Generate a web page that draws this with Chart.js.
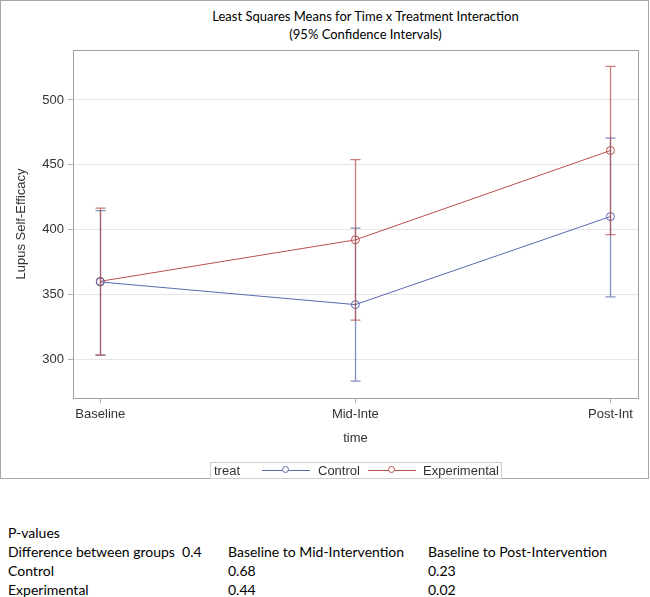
<!DOCTYPE html>
<html>
<head>
<meta charset="utf-8">
<script src="https://cdn.jsdelivr.net/npm/chart.js@4.4.0/dist/chart.umd.min.js"></script>
<style>
  body { margin: 0; background: #fff; }
  #wrap { position: relative; width: 650px; height: 597px; overflow: hidden; }
  #frame { position: absolute; left: 0; top: 0; width: 647px; height: 477px; border: 1px solid #a6a6a6; }
  #chart { position: absolute; left: 0; top: 0; }
  .title { position: absolute; left: 83px; width: 565px; text-align: center; font: 13px Lato, sans-serif; color: #000; }
  #legend { position: absolute; left: 210px; top: 462px; width: 290px; height: 15px; border: 1px solid #cfcfcf;
            font: 13px "Liberation Sans", Arial, sans-serif; color: #333; line-height: 15px; white-space: nowrap; }
  #legend span { position: absolute; top: 0; }
  .mk { position: absolute; top: 7px; height: 1px; width: 48px; }
  .mk i { position: absolute; left: 20px; top: -4px; width: 7px; height: 7px; border-radius: 50%; border: 1px solid; box-sizing: border-box; background: #fff; }
  #table { position: absolute; left: 8px; top: 524px; font: 14px Lato, sans-serif; color: #000; }
  #table div { position: relative; height: 19px; white-space: nowrap; }
  #table span { position: absolute; top: 0; }
</style>
</head>
<body>
<div id="wrap">
  <div id="frame"></div>
  <div class="title" style="top:8px">Least Squares Means for Time x Treatment Interaction</div>
  <div class="title" style="top:26px">(95% Confidence Intervals)</div>
  <canvas id="chart" width="650" height="480"></canvas>
  <div id="legend">
    <span style="left:3px">treat</span>
    <div class="mk" style="left:51px;background:#5a6aad"><i style="border-color:#5a6aad"></i></div>
    <span style="left:107px">Control</span>
    <div class="mk" style="left:157px;background:#b8504a"><i style="border-color:#b8504a"></i></div>
    <span style="left:212px">Experimental</span>
  </div>
  <div id="table">
    <div><span style="left:0">P-values</span></div>
    <div><span style="left:0">Difference between groups&nbsp; 0.4</span><span style="left:220px">Baseline to Mid-Intervention</span><span style="left:420px">Baseline to Post-Intervention</span></div>
    <div><span style="left:0">Control</span><span style="left:220px">0.68</span><span style="left:420px">0.23</span></div>
    <div><span style="left:0">Experimental</span><span style="left:220px">0.44</span><span style="left:420px">0.02</span></div>
  </div>
</div>
<script>
const timePoints = ['Baseline', 'Mid-Inte', 'Post-Int'];
const yTicks = [300, 350, 400, 450, 500];

const controlMeans = [359.5, 342, 410];
const controlLow = [303, 283, 348];
const controlHigh = [414.5, 401, 470.5];

const experimentalMeans = [360, 392, 461];
const experimentalLow = [303, 330, 396];
const experimentalHigh = [416.5, 454, 526];

const blue = '#5a6aad';
const red = '#b8504a';

// error bars with caps, drawn from the scales
const errorBars = {
    id: 'errorBars',
    afterDatasetsDraw(chart) {
        const { ctx, scales: { x, y } } = chart;
        chart.data.datasets.forEach(ds => {
            ctx.save();
            ctx.strokeStyle = ds.errColor;
            ctx.lineWidth = 1.3;
            ds.low.forEach((lo, i) => {
                const px = Math.round(x.getPixelForValue(i)) + 0.5;
                const yl = y.getPixelForValue(lo);
                const yh = y.getPixelForValue(ds.high[i]);
                ctx.beginPath();
                ctx.moveTo(px, yl); ctx.lineTo(px, yh);
                ctx.moveTo(px - 5, yl); ctx.lineTo(px + 5, yl);
                ctx.moveTo(px - 5, yh); ctx.lineTo(px + 5, yh);
                ctx.stroke();
            });
            ctx.restore();
        });
    }
};

const plotFrame = {
    id: 'plotFrame',
    afterDraw(chart) {
        const { ctx, chartArea: a } = chart;
        ctx.save();
        ctx.strokeStyle = '#a0a0a0';
        ctx.lineWidth = 1;
        ctx.strokeRect(Math.round(a.left) + 0.5, Math.round(a.top) + 0.5, Math.round(a.right - a.left), Math.round(a.bottom - a.top));
        ctx.restore();
    }
};

new Chart(document.getElementById('chart'), {
    type: 'line',
    data: {
        datasets: [
            {
                label: 'Control',
                data: controlMeans.map((v, i) => ({ x: i, y: v })),
                low: controlLow, high: controlHigh,
                borderColor: blue, errColor: 'rgba(90,106,173,0.75)',
                borderWidth: 1, pointRadius: 4, pointBorderWidth: 1,
                pointBackgroundColor: 'rgba(255,255,255,0)', pointBorderColor: blue, tension: 0
            },
            {
                label: 'Experimental',
                data: experimentalMeans.map((v, i) => ({ x: i, y: v })),
                low: experimentalLow, high: experimentalHigh,
                borderColor: red, errColor: 'rgba(184,80,74,0.75)',
                borderWidth: 1, pointRadius: 4, pointBorderWidth: 1,
                pointBackgroundColor: 'rgba(255,255,255,0)', pointBorderColor: red, tension: 0
            }
        ]
    },
    options: {
        responsive: false,
        animation: false,
        layout: { padding: { top: 50, right: 12, left: 0, bottom: 34 } },
        plugins: { legend: { display: false }, title: { display: false }, tooltip: { enabled: false } },
        scales: {
            x: {
                type: 'linear', min: -0.107, max: 2.108,
                afterBuildTicks: s => { s.ticks = timePoints.map((_, i) => ({ value: i })); },
                afterFit: s => { s.height = 48; },
                ticks: { callback: v => timePoints[v], color: '#333', font: { family: 'Liberation Sans', size: 13 }, padding: 4, maxRotation: 0 },
                grid: { drawOnChartArea: false, drawTicks: true, tickLength: 5, tickColor: '#b0b0b0' },
                border: { color: '#a0a0a0' },
                title: { display: true, text: 'time', color: '#333', font: { family: 'Liberation Sans', size: 13 }, padding: { top: 6, bottom: 0 } }
            },
            y: {
                min: 269.9, max: 538.6,
                afterBuildTicks: s => { s.ticks = yTicks.map(v => ({ value: v })); },
                afterFit: s => { s.width = 73; },
                ticks: { color: '#333', font: { family: 'Liberation Sans', size: 13 }, padding: 4 },
                grid: { color: '#e6e6e6', tickColor: '#b0b0b0', tickLength: 5 },
                border: { color: '#a0a0a0' },
                title: { display: true, text: 'Lupus Self-Efficacy', color: '#333', font: { family: 'Liberation Sans', size: 13 }, padding: { top: 14, bottom: 0 } }
            }
        }
    },
    plugins: [errorBars, plotFrame]
});
</script>
</body>
</html>
